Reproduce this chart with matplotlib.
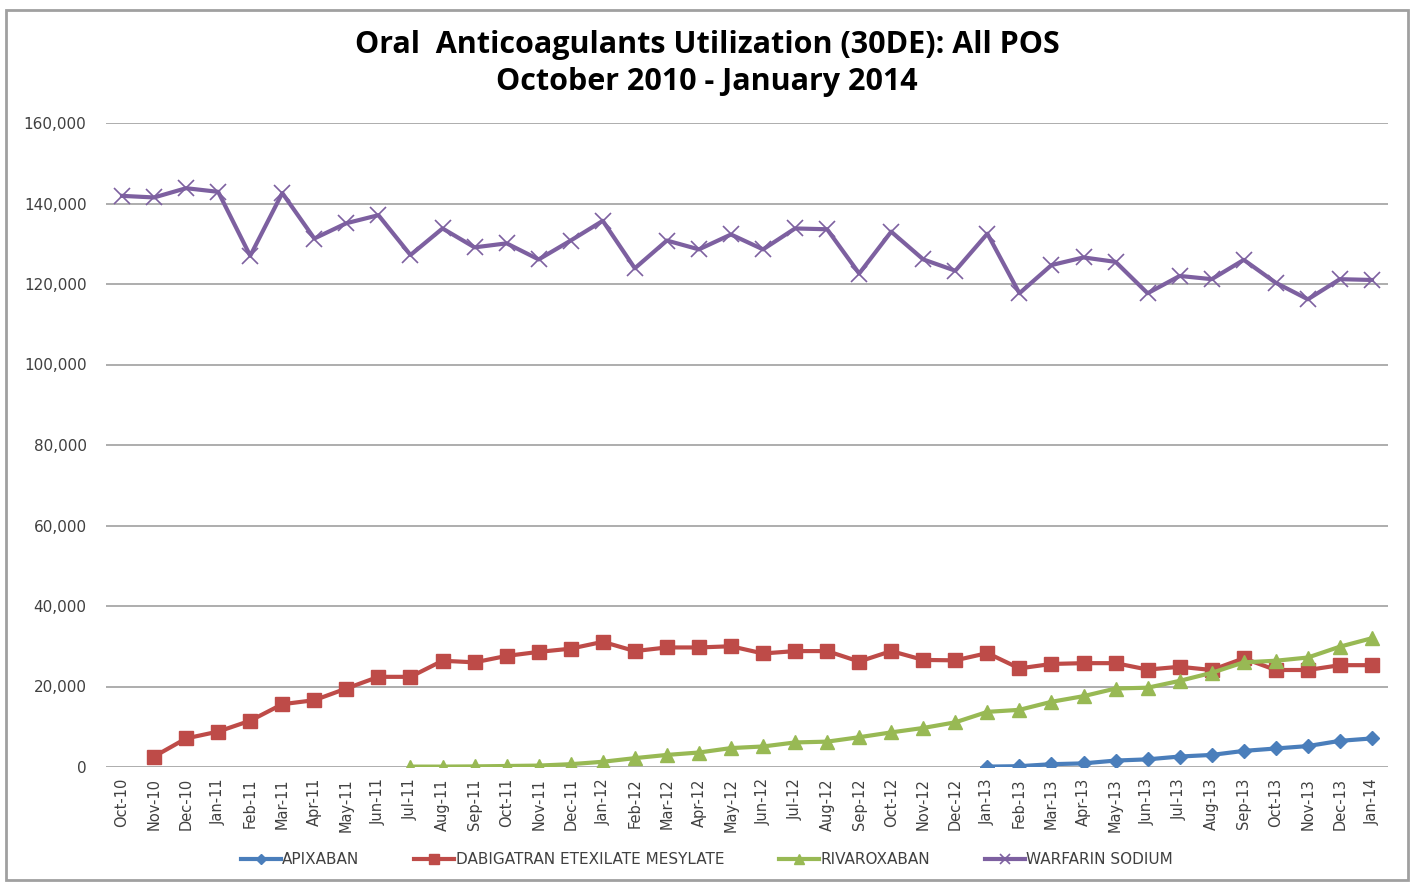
import matplotlib.pyplot as plt
from matplotlib.patches import Rectangle
import numpy as np

months = ["Oct-10", "Nov-10", "Dec-10",
          "Jan-11", "Feb-11", "Mar-11", "Apr-11", "May-11", "Jun-11",
          "Jul-11", "Aug-11", "Sep-11", "Oct-11", "Nov-11", "Dec-11",
          "Jan-12", "Feb-12", "Mar-12", "Apr-12", "May-12", "Jun-12",
          "Jul-12", "Aug-12", "Sep-12", "Oct-12", "Nov-12", "Dec-12",
          "Jan-13", "Feb-13", "Mar-13", "Apr-13", "May-13", "Jun-13",
          "Jul-13", "Aug-13", "Sep-13", "Oct-13", "Nov-13", "Dec-13",
          "Jan-14"]

# None = no data for that month
apixaban = [None] * 27 + [100, 200, 700, 900, 1600, 1900, 2600, 3000,
                          4000, 4600, 5200, 6500, 7100]

dabigatran = [None, 2600, 7100, 8800, 11500, 15600, 16600, 19500, 22400,
              22400, 26400, 26000, 27600, 28600, 29400, 31100, 28800,
              29700, 29700, 30000, 28200, 28800, 28800, 26200, 28800,
              26600, 26500, 28300, 24500, 25600, 25800, 25800, 24200,
              24900, 24100, 27000, 24100, 24100, 25300, 25300]

rivaroxaban = [None] * 9 + [100, 100, 150, 250, 350, 700, 1300, 2200,
                            3000, 3600, 4700, 5100, 6100, 6300, 7400,
                            8600, 9700, 11100, 13700, 14200, 16200, 17600,
                            19500, 19700, 21400, 23400, 26000, 26400,
                            27200, 29900, 32000]

warfarin = [141900, 141500, 143800, 142900, 127000, 142600, 131300, 135100,
            137100, 127200, 133800, 129100, 130100, 126100, 130800, 135700,
            123900, 130800, 128600, 132300, 128600, 133800, 133600, 122600,
            133000, 126100, 123300, 132500, 117700, 124700, 126600, 125500,
            117700, 122000, 121200, 126000, 120300, 116200, 121200, 121000]

yticks = [0, 20000, 40000, 60000, 80000, 100000, 120000, 140000, 160000]


def to_arr(v):
    return np.array([np.nan if a is None else a for a in v], dtype=float)


plt.rcParams['font.family'] = ['DejaVu Sans']

fig = plt.figure(figsize=(14.14, 8.84), dpi=100)
ax = fig.add_axes([106 / 1414, 1 - 767 / 884, (1388 - 106) / 1414, (767 - 123) / 884])

x = np.arange(len(months))
ax.plot(x, to_arr(apixaban), color="#4A7EBB", lw=3, marker="D", ms=7,
        label="APIXABAN")
ax.plot(x, to_arr(dabigatran), color="#BE4B48", lw=3, marker="s", ms=10,
        label="DABIGATRAN ETEXILATE MESYLATE")
ax.plot(x, to_arr(rivaroxaban), color="#98B954", lw=3, marker="^", ms=10,
        label="RIVAROXABAN")
ax.plot(x, to_arr(warfarin), color="#7D60A0", lw=3, marker="x", ms=11,
        mew=1.2, label="WARFARIN SODIUM")

ax.set_xlim(-0.5, len(months) - 0.5)
ax.set_ylim(0, 160000)
ax.set_yticks(yticks)
ax.set_yticklabels([f"{t:,}" for t in yticks], fontsize=11, color="#404040")
ax.set_xticks(x)
ax.set_xticklabels(months, rotation=90, fontsize=10.5, color="#404040")
ax.tick_params(length=0)
ax.tick_params(axis="y", pad=14)
ax.tick_params(axis="x", pad=8)
ax.grid(axis="y", color="#a0a0a0", lw=1.2)
ax.set_axisbelow(True)
for s in ax.spines.values():
    s.set_visible(False)

title_font = ['Open Sans', 'DejaVu Sans']
fig.text(0.5, 1 - 45 / 884, "Oral  Anticoagulants Utilization (30DE): All POS",
         ha="center", va="center", fontsize=22, fontweight="bold", family=title_font)
fig.text(0.5, 1 - 82 / 884, "October 2010 - January 2014",
         ha="center", va="center", fontsize=22, fontweight="bold", family=title_font)

fig.legend(loc="center", bbox_to_anchor=(0.5, 1 - 860 / 884), ncol=4,
           frameon=False, fontsize=11, handlelength=2.6, handletextpad=0.1,
           columnspacing=3.6, labelcolor="#404040", markerscale=0.7)

fig.patches.append(Rectangle((6 / 1414, 4 / 884), 1402 / 1414, 870 / 884,
                             transform=fig.transFigure, fill=False,
                             edgecolor="#a0a0a0", lw=2))

fig.savefig("out.png", dpi=100, facecolor="white")
